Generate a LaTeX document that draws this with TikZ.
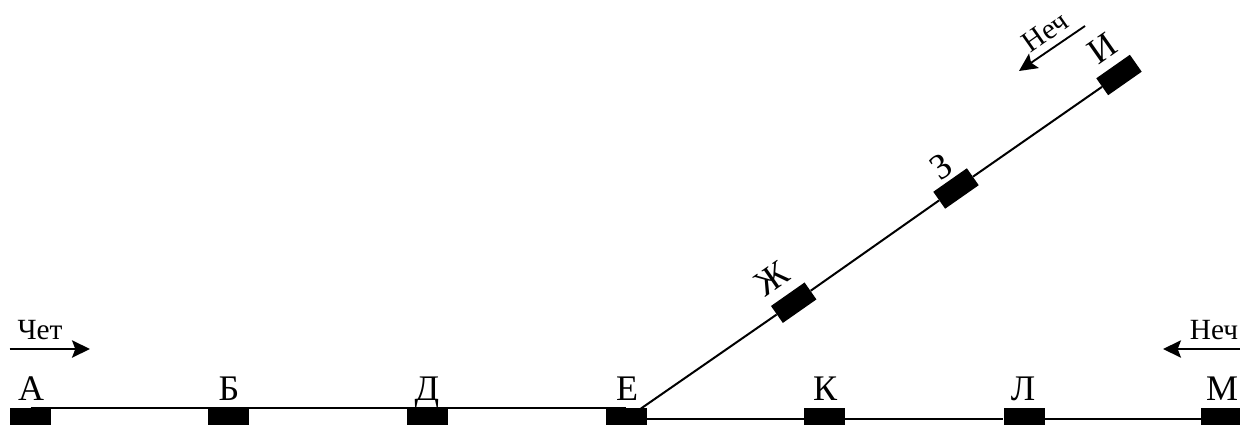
\documentclass[tikz,border=0pt]{standalone}
\usepackage{fontspec}
\setmainfont{Liberation Serif}
\usetikzlibrary{arrows.meta}
\tikzset{
  block/.style={fill=black,draw=none,inner sep=0pt,minimum width=30.75pt,minimum height=15.5pt},
  stn/.style={inner sep=0pt,anchor=base,font=\fontsize{27}{28}\selectfont},
  dirn/.style={inner sep=0pt,font=\fontsize{22}{24}\selectfont},
  trk/.style={line width=1.5pt},
  dirarrow/.style={line width=1.4pt,-{Stealth[length=13.5pt,width=13pt,inset=2.5pt]}}
}
\begin{document}
\begin{tikzpicture}[x=0.75pt,y=-0.75pt]
\useasboundingbox (0,0) rectangle (1240,425);
\clip (0,0) rectangle (1240,425);
\node[block] (a) at (30.5,418.5) {};
\node[block] (b) at (228.5,418.5) {};
\node[block] (d) at (427.5,418.5) {};
\node[block] (e) at (626,418.5) {};
\node[block] (k) at (824.5,418.5) {};
\node[block] (l) at (1024,418.5) {};
\node[block] (m) at (1221.5,418.5) {};
\node[block,rotate=35] (zh) at (793.7,302.7) {};
\node[block,rotate=35] (z) at (956,188.5) {};
\node[block,rotate=35] (i) at (1119,75) {};
\coordinate (ej) at (641,408.5);
\draw[trk] (a.north) -- (b.north) (b.north) -- (d.north) (d.north) -- (e.north);
\draw[trk] (e) -- (k) (k) -- (l) (l) -- (m);
\draw[trk] (ej) -- (zh) (zh) -- (z) (z) -- (i);
\node[stn] (ta) at (31,400) {А};
\node[stn] (tb) at (229,400) {Б};
\node[stn] (td) at (427,400) {Д};
\node[stn] (te) at (627,400) {Е};
\node[stn] (tk) at (825,400) {К};
\node[stn] (tl) at (1023,400) {Л};
\node[stn] (tm) at (1222,400) {М};
\node[stn,anchor=center,rotate=35] (tzh) at (772,279) {Ж};
\node[stn,anchor=center,rotate=35] (tz) at (941,167) {З};
\node[stn,anchor=center,rotate=35] (ti) at (1102,48) {И};
\coordinate (c1) at (9.5,349);
\coordinate (c2) at (90,349);
\coordinate (c3) at (1240,349);
\coordinate (c4) at (1163,349);
\coordinate (c5) at (1085,26);
\coordinate (c6) at (1019,71);
\draw[dirarrow] (c1) -- (c2);
\draw[dirarrow] (c3) -- (c4);
\draw[dirarrow] (c5) -- (c6);
\node[dirn] (t1) at (40,330) {Чет};
\node[dirn] (t2) at (1214,330) {Неч};
\node[dirn,rotate=35] (t3) at (1045,32) {Неч};
\end{tikzpicture}
\end{document}
